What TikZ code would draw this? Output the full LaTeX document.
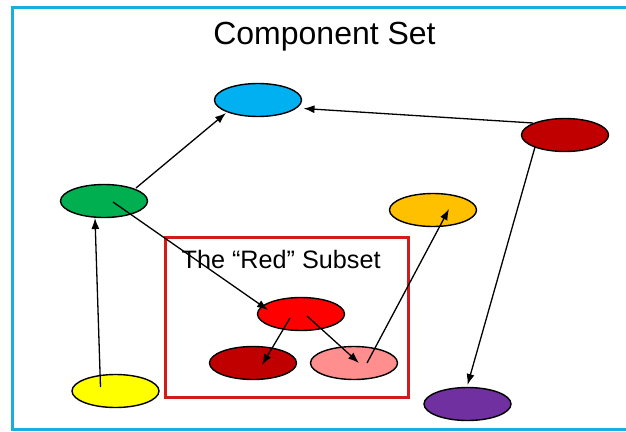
\documentclass[tikz,border=0pt]{standalone}
\usepackage{fontspec}
\setmainfont{Liberation Sans}
\usepackage{xcolor}
\usepackage{tikz}
\usetikzlibrary{shapes.geometric,arrows.meta,calc}

\definecolor{framec}{HTML}{1AAEE0}
\definecolor{boxc}{HTML}{D01C1C}
\definecolor{skyc}{HTML}{00B0F0}
\definecolor{winec}{HTML}{C00000}
\definecolor{leafc}{HTML}{00B050}
\definecolor{goldc}{HTML}{FFC000}
\definecolor{scarletc}{HTML}{FF0000}
\definecolor{rosec}{HTML}{FF8F8F}
\definecolor{lemonc}{HTML}{FFFF00}
\definecolor{plumc}{HTML}{7030A0}

\begin{document}
\begin{tikzpicture}[x=1pt,y=-1pt,
  comp/.style={ellipse,draw,line width=1.4pt,minimum width=87pt,minimum height=33pt,inner sep=0pt},
  link/.style={-{Latex[length=11pt,width=8pt]},line width=1.3pt}]
\useasboundingbox (0,0) rectangle (626,431);
\draw[line width=3pt,framec] (626,7.5) -- (12,7.5) -- (12,429.5) -- (626,429.5);
\node[anchor=base,inner sep=0pt,font=\fontsize{32}{36}\selectfont] (title) at (324.5,44) {Component Set};
\draw[line width=3pt,boxc] (165.5,237.5) rectangle (408,397);
\node[anchor=base west,inner sep=0pt,font=\fontsize{25.2}{30}\selectfont] (subset) at (181.5,268) {The “Red” Subset};
\foreach \n/\x/\y/\c in {sky/258/100/skyc, wine/565/135/winec, leaf/104/201/leafc, gold/433/210/goldc, scarlet/301/314/scarletc, maroon/253/363/winec, rose/354/363/rosec, lemon/115.5/391/lemonc, plum/467.5/404/plumc}
    \node[comp,fill=\c] (\n) at (\x,\y) {};
\draw[link] ($(leaf)+(32,-13)$) -- ($(sky)+(-32,13)$);
\draw[link] ($(wine)+(-32,-12)$) -- ($(sky)+(45.5,8.5)$);
\draw[link] ($(leaf)+(9,1)$) -- ($(scarlet)+(-33,-4)$);
\draw[link] ($(lemon)+(-15,-4)$) -- ($(leaf)+(-9,17)$);
\draw[link] ($(scarlet)+(-11,4)$) -- ($(maroon)+(9,2)$);
\draw[link] ($(scarlet)+(6,2)$) -- ($(rose)+(5,0)$);
\draw[link] ($(rose)+(13,0)$) -- ($(gold)+(16,-1)$);
\draw[link] ($(wine)+(-30,12)$) -- ($(plum)+(0,-19)$);
\end{tikzpicture}
\end{document}
